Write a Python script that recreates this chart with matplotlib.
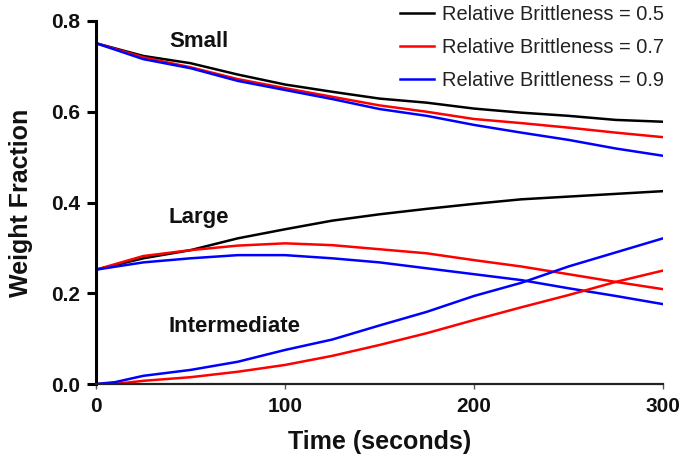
import numpy as np
import matplotlib
matplotlib.use('Agg')
import matplotlib.pyplot as plt

plt.rcParams['font.family'] = ['Liberation Sans', 'DejaVu Sans']

# time points (seconds)
t = [0, 25, 50, 75, 100, 125, 150, 175, 200, 225, 250, 275, 300]
t_int = [0, 10, 25, 50, 75, 100, 125, 150, 175, 200, 225, 250, 275, 300]

# Small fraction
small_05 = [0.751, 0.723, 0.707, 0.682, 0.660, 0.644, 0.629, 0.620, 0.607, 0.598, 0.591, 0.582, 0.578]
small_07 = [0.751, 0.720, 0.698, 0.672, 0.652, 0.633, 0.614, 0.600, 0.584, 0.575, 0.565, 0.554, 0.544]
small_09 = [0.751, 0.716, 0.696, 0.668, 0.648, 0.628, 0.606, 0.591, 0.571, 0.554, 0.538, 0.519, 0.503]

# Large fraction
large_05 = [0.252, 0.277, 0.295, 0.321, 0.341, 0.360, 0.374, 0.386, 0.397, 0.407, 0.413, 0.419, 0.425]
large_07 = [0.252, 0.282, 0.295, 0.305, 0.310, 0.306, 0.297, 0.288, 0.273, 0.259, 0.242, 0.225, 0.209]
large_09 = [0.252, 0.268, 0.277, 0.284, 0.284, 0.277, 0.268, 0.255, 0.242, 0.229, 0.211, 0.194, 0.176]

# Intermediate fraction
inter_07 = [0.0, 0.0, 0.007, 0.015, 0.027, 0.042, 0.062, 0.086, 0.112, 0.141, 0.169, 0.196, 0.225, 0.250]
inter_09 = [0.0, 0.004, 0.018, 0.031, 0.049, 0.075, 0.098, 0.129, 0.159, 0.194, 0.223, 0.259, 0.290, 0.321]

labels = ['Relative Brittleness = 0.5', 'Relative Brittleness = 0.7', 'Relative Brittleness = 0.9']
colors = ['#000000', '#ff0000', '#0000ff']

fig = plt.figure(figsize=(6.82, 4.59), dpi=100)
ax = fig.add_axes([96/682, 1 - 384/459, (663 - 96)/682, (384 - 21)/459])

lw = 1.8
ax.plot(t, small_05, color=colors[0], lw=lw, label=labels[0])
ax.plot(t, small_07, color=colors[1], lw=lw, label=labels[1])
ax.plot(t, small_09, color=colors[2], lw=lw, label=labels[2])
ax.plot(t, large_05, color=colors[0], lw=lw)
ax.plot(t, large_07, color=colors[1], lw=lw)
ax.plot(t, large_09, color=colors[2], lw=lw)
ax.plot(t_int, inter_07, color=colors[1], lw=lw)
ax.plot(t_int, inter_09, color=colors[2], lw=lw)

ax.set_xlim(0, 300)
ax.set_ylim(0, 0.8)
ax.set_xticks([0, 100, 200, 300])
ax.set_yticks([0.0, 0.2, 0.4, 0.6, 0.8])
ax.set_yticklabels(['0.0', '0.2', '0.4', '0.6', '0.8'])

ax.spines['top'].set_visible(False)
ax.spines['right'].set_visible(False)
ax.spines['left'].set_linewidth(2.2)
ax.spines['left'].set_color('black')
ax.spines['bottom'].set_linewidth(1.6)
ax.spines['bottom'].set_color('#222222')
ax.tick_params(axis='y', direction='out', length=6.5, width=2.2, pad=5, labelsize=15)
ax.tick_params(axis='x', direction='out', length=3.5, width=1.0, color='#555555', pad=6, labelsize=15)
for lab in ax.get_xticklabels() + ax.get_yticklabels():
    lab.set_fontweight('bold')
    lab.set_color('#111111')

ax.set_xlabel('Time (seconds)', fontsize=18, fontweight='bold', labelpad=10, color='#111111')
ax.set_ylabel('Weight Fraction', fontsize=18, fontweight='bold', labelpad=13, color='#111111')

ax.text(38.6, 0.754, 'Small', fontsize=16, fontweight='bold', va='center', ha='left', color='#111111')
ax.text(38.6, 0.366, 'Large', fontsize=16, fontweight='bold', va='center', ha='left', color='#111111')
ax.text(38.6, 0.126, 'Intermediate', fontsize=16, fontweight='bold', va='center', ha='left', color='#111111')

leg = ax.legend(loc='upper right', bbox_to_anchor=(664/682, 1 - 5/459), bbox_transform=fig.transFigure,
                frameon=False, fontsize=14.4, handlelength=1.7, handletextpad=0.4, labelspacing=0.7,
                borderaxespad=0, borderpad=0)
for txt in leg.get_texts():
    txt.set_color('#222222')

fig.savefig('out.png', dpi=100)
